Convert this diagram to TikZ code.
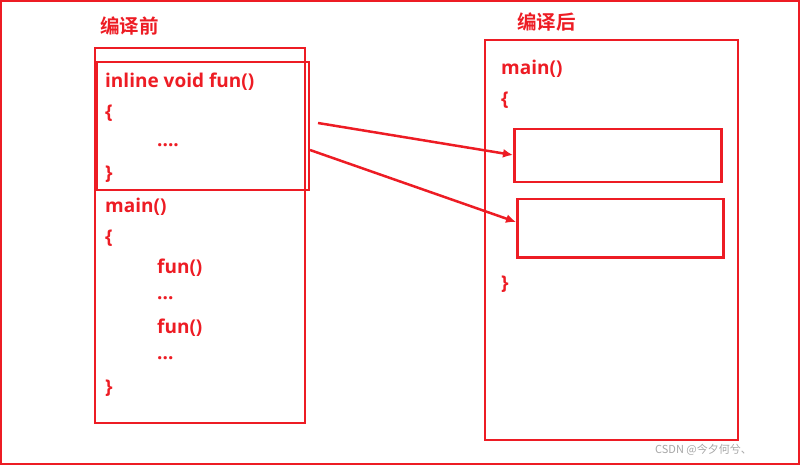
\documentclass[tikz,border=0pt]{standalone}
\usepackage{fontspec}
\setmainfont{Open Sans}
\newfontfamily\cjk{Noto Sans CJK SC Bold}
\newfontfamily\wm{Noto Sans CJK SC}
\definecolor{rd}{RGB}{237,28,36}
\begin{document}
\begin{tikzpicture}[x=1pt,y=-1pt,
  bx/.style={draw=rd,line width=2.5pt},
  tx/.style={text=rd,anchor=west,inner sep=0pt,font=\bfseries\fontsize{19}{20}\selectfont},
  ar/.style={draw=rd,line width=2.5pt,-{Latex[length=10pt,width=9pt]}}]
\usetikzlibrary{arrows.meta}
\useasboundingbox (0,0) rectangle (800,465);
\draw[rd,line width=2.5pt] (1,1) rectangle (799,464);
\draw[bx] (95,48) rectangle (305,423);
\draw[bx] (97,62) rectangle (309,190);
\draw[bx] (485,40) rectangle (738,440);
\node[bx,minimum width=207,minimum height=53,anchor=north west,inner sep=0] (b1) at (513,128) {};
\node[bx,minimum width=206,minimum height=58,anchor=north west,inner sep=0] (b2) at (516,198) {};
\node[tx,font=\cjk\fontsize{19.5}{20}\selectfont] at (100,26) {编译前};
\node[tx,font=\cjk\fontsize{19.5}{20}\selectfont] at (517,22) {编译后};
\node[tx] at (105,82) {inline void fun()};
\node[tx] at (105,113) {\{};
\node[tx] at (157,145) {....};
\node[tx] at (105,174) {\}};
\node[tx] at (105,207) {main()};
\node[tx] at (105,238) {\{};
\node[tx] at (157,268) {fun()};
\node[tx] at (157,298) {...};
\node[tx] at (157,328) {fun()};
\node[tx] at (157,358) {...};
\node[tx] at (105,388) {\}};
\node[tx] at (501,69) {main()};
\node[tx] at (501,100) {\{};
\node[tx] at (501,284) {\}};
\coordinate (s1) at (318,123);
\coordinate (s2) at (310,150);
\draw[ar] (s1) -- (b1.west|-0,155);
\draw[ar] (s2) -- (b2.west|-0,222);
\node[text=gray!70,anchor=west,inner sep=0,font=\wm\fontsize{11}{12}\selectfont] at (655,450) {CSDN @今夕何兮、};
\end{tikzpicture}
\end{document}
